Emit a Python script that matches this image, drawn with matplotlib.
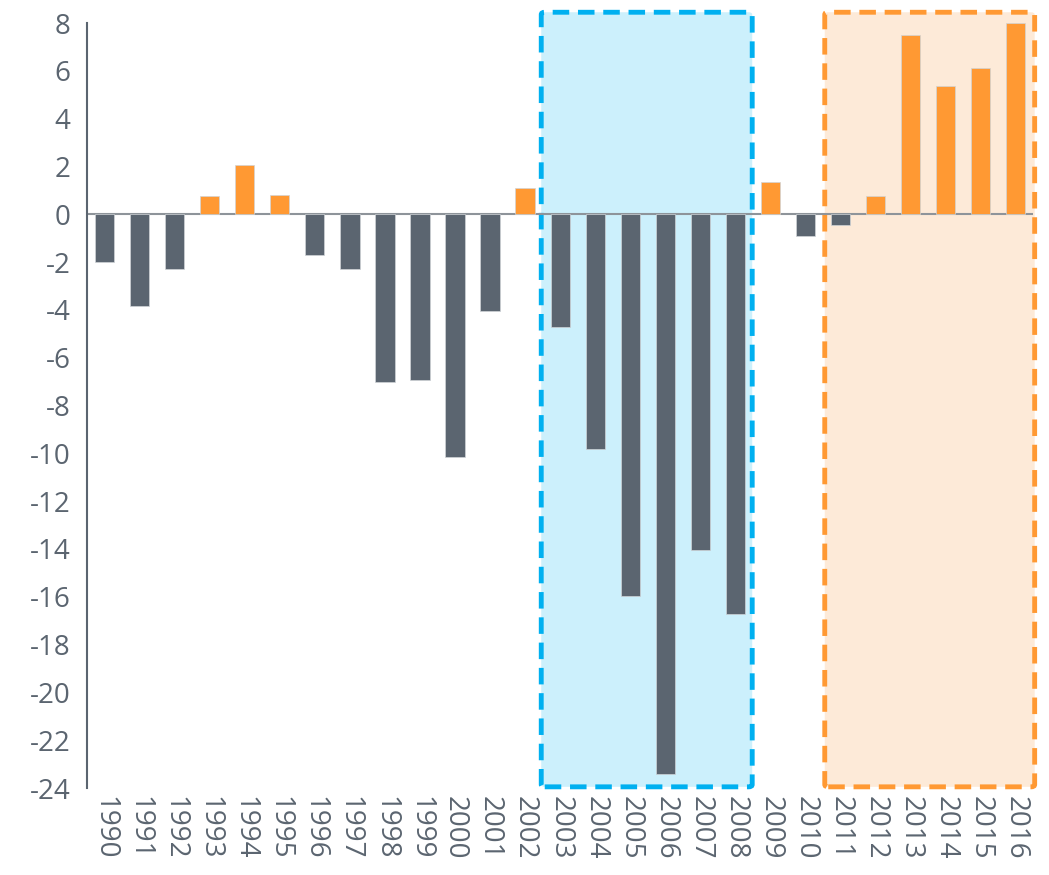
import matplotlib.pyplot as plt
import matplotlib.patches as patches

plt.rcParams['font.family'] = ['Open Sans', 'DejaVu Sans']
plt.rcParams['axes.unicode_minus'] = False

years = [str(y) for y in range(1990, 2017)]
values = [-2.0, -3.85, -2.3, 0.78, 2.07, 0.82, -1.7, -2.27, -7.03, -6.95,
          -10.15, -4.05, 1.1, -4.73, -9.8, -15.95, -23.4, -14.05, -16.7,
          1.35, -0.92, -0.45, 0.78, 7.5, 5.38, 6.12, 8.0]

# highlighted periods (first and last year index of each box)
blue_span = (13, 18)
orange_span = (21, 26)

GRAY = '#5B6570'
ORANGE = '#FF9933'

fig = plt.figure(figsize=(10.49, 8.75), dpi=100)
ax = fig.add_axes([0.083, 0.0994, 0.902, 0.8743])

x = list(range(len(years)))
colors = [ORANGE if v > 0 else GRAY for v in values]

# boxes behind the bars
for (a, b), pad_l, pad_r, face, edge in [(blue_span, 0.54, 0.48, '#CCF0FC', '#00B0F0'),
                                         (orange_span, 0.45, 0.54, '#FDEAD8', '#FF9933')]:
    rect = patches.FancyBboxPatch((a - pad_l, -23.95), (b - a) + pad_l + pad_r, 32.4,
                                  boxstyle='round,pad=0,rounding_size=0.1',
                                  facecolor=face, edgecolor=edge, linewidth=3.5,
                                  linestyle=(0, (3.4, 1.8)), zorder=1, clip_on=False)
    ax.add_patch(rect)

ax.bar(x, values, width=0.55, color=colors, edgecolor='#D0D4D8', linewidth=0.5, zorder=3)
ax.axhline(0, color='#8E949A', linewidth=1.5, zorder=2)

ax.set_xlim(-0.5, len(years) - 0.5)
ax.set_ylim(-24, 8)
ax.set_yticks(range(-24, 9, 2))
ax.set_xticks(x)
ax.set_xticklabels(years, rotation=-90, fontsize=20, color=GRAY)
ax.tick_params(axis='y', labelsize=20, labelcolor=GRAY, length=0, pad=12)
ax.tick_params(axis='x', length=0, pad=6)
ax.xaxis.set_ticks_position('bottom')

for s in ['top', 'right', 'bottom']:
    ax.spines[s].set_visible(False)
ax.spines['left'].set_color(GRAY)
ax.spines['left'].set_linewidth(1.5)

fig.savefig('out.png', dpi=100)
